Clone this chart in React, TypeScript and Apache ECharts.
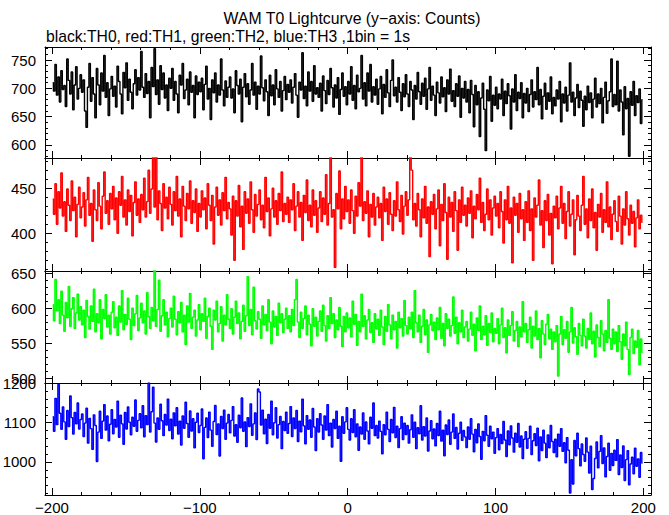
import React, { useEffect, useRef } from "react";
import * as echarts from "echarts";

const TITLE = "WAM T0 Lightcurve (y\u2212axis: Counts)";
const SUBTITLE = "black:TH0, red:TH1, green:TH2, blue:TH3 ,1bin = 1s";

const BIN_START = -200;
const BIN_WIDTH = 1;
const X_RANGE = [-204.7, 205.2];

const COLORS = ["#000000", "#ff0000", "#00ff00", "#0000ff"];
const Y_RANGES = [
  [577, 773],
  [358, 483.5],
  [493, 653],
  [916, 1201],
];
const Y_SPLITS = [4, 3, 3, 3];

const TH0 = [
  710, 695, 742, 688, 720, 676, 731, 698, 705, 668, 752, 714, 690, 729, 662, 706, 738, 681, 700, 724,
  693, 715, 660, 631, 702, 744, 677, 719, 690, 648, 735, 706, 671, 727, 695, 758, 684, 710, 652, 699,
  721, 686, 704, 667, 739, 712, 690, 655, 728, 701, 745, 679, 716, 693, 664, 708, 733, 688, 719, 697,
  765, 702, 684, 726, 691, 712, 648, 737, 703, 770, 689, 715, 672, 740, 698, 727, 683, 706, 661, 718,
  700, 735, 679, 712, 690, 657, 723, 706, 744, 682, 697, 716, 671, 729, 693, 705, 648, 722, 689, 711,
  694, 718, 662, 707, 739, 681, 700, 645, 715, 692, 727, 676, 706, 688, 752, 697, 669, 713, 684, 702,
  720, 683, 699, 657, 731, 705, 690, 716, 641, 702, 726, 685, 708, 672, 697, 744, 688, 711, 663, 704,
  690, 757, 701, 678, 715, 694, 652, 723, 687, 706, 671, 733, 699, 684, 712, 660, 696, 721, 680, 707,
  693, 715, 674, 702, 726, 688, 649, 711, 697, 763, 682, 704, 669, 729, 695, 712, 677, 740, 690, 701,
  684, 709, 660, 722, 696, 673, 714, 689, 735, 701, 667, 706, 683, 719, 654, 698, 727, 686, 703, 671,
  712, 690, 738, 679, 705, 664, 723, 694, 700, 758, 681, 710, 669, 727, 695, 742, 676, 703, 688, 716,
  672, 699, 721, 655, 707, 684, 733, 692, 668, 714, 750, 687, 702, 676, 719, 693, 661, 708, 685, 724,
  690, 668, 712, 697, 645, 705, 681, 728, 694, 672, 709, 686, 718, 663, 699, 737, 679, 704, 688, 652,
  711, 692, 674, 720, 685, 701, 659, 715, 690, 734, 677, 696, 668, 708, 686, 722, 649, 700, 683, 712,
  676, 698, 657, 714, 689, 632, 705, 671, 694, 615, 683, 709, 663, 590, 697, 678, 721, 642, 688, 670,
  702, 664, 690, 681, 716, 652, 695, 673, 708, 687, 628, 699, 676, 724, 661, 693, 682, 710, 648, 691,
  674, 700, 659, 689, 715, 667, 694, 680, 737, 671, 698, 646, 686, 709, 663, 692, 677, 720, 655, 684,
  669, 697, 681, 712, 641, 690, 674, 702, 660, 688, 745, 676, 693, 652, 683, 707, 666, 695, 679, 633,
  686, 662, 704, 675, 692, 648, 681, 718, 667, 690, 673, 700, 639, 684, 711, 656, 678, 694, 752, 668,
  689, 671, 748, 660, 697, 676, 618, 703, 664, 682, 580, 694, 670, 712, 652, 687, 675, 699, 638, 680,
];

const TH1 = [
  438, 421, 455, 410, 446, 428, 467, 419, 435, 402, 449, 431, 414, 458, 425, 440, 396, 432, 451, 417,
  429, 445, 408, 437, 462, 420, 433, 391, 448, 426, 414, 456, 430, 405, 441, 468, 422, 436, 410, 444,
  427, 452, 415, 439, 400, 446, 431, 463, 418, 437, 409, 448, 424, 442, 397, 434, 457, 420, 438, 412,
  443, 426, 461, 418, 435, 470, 422, 449, 488, 429, 492, 415, 447, 433, 403, 455, 428, 440, 416, 451,
  432, 409, 446, 425, 463, 419, 438, 396, 452, 430, 414, 444, 427, 458, 411, 436, 423, 449, 402, 433,
  418, 447, 426, 439, 405, 455, 431, 414, 442, 388, 429, 451, 420, 437, 409, 445, 425, 462, 416, 434,
  427, 398, 441, 370, 436, 419, 453, 407, 430, 382, 446, 422, 438, 411, 457, 426, 401, 443, 419, 432,
  448, 415, 431, 406, 462, 424, 439, 397, 427, 450, 418, 436, 410, 444, 425, 468, 413, 433, 421, 440,
  412, 437, 426, 455, 403, 430, 446, 418, 434, 392, 442, 423, 459, 414, 431, 407, 448, 420, 436, 401,
  428, 446, 413, 439, 421, 465, 409, 433, 490, 418, 426, 362, 444, 427, 469, 405, 438, 416, 452, 424,
  437, 411, 448, 425, 400, 441, 419, 456, 430, 486, 414, 435, 422, 447, 396, 432, 418, 444, 409, 429,
  440, 417, 433, 392, 451, 424, 438, 410, 445, 421, 403, 436, 419, 457, 426, 413, 442, 399, 430, 446,
  420, 437, 488, 470, 415, 433, 408, 444, 426, 396, 438, 417, 452, 411, 429, 374, 435, 421, 443, 405,
  427, 448, 386, 432, 414, 455, 423, 371, 440, 418, 434, 402, 446, 425, 381, 437, 412, 451, 420, 431,
  408, 439, 422, 447, 395, 430, 416, 443, 426, 461, 412, 434, 403, 421, 449, 415, 437, 398, 428, 441,
  419, 433, 406, 446, 424, 389, 437, 415, 452, 411, 428, 367, 440, 420, 433, 401, 444, 416, 426, 392,
  435, 412, 447, 403, 427, 370, 439, 418, 431, 459, 409, 425, 384, 436, 414, 443, 398, 422, 366, 430,
  417, 441, 405, 428, 452, 411, 433, 394, 424, 446, 408, 421, 437, 376, 415, 442, 419, 403, 431, 463,
  410, 427, 395, 438, 414, 449, 406, 423, 381, 432, 418, 444, 401, 426, 412, 457, 407, 429, 393, 421,
  436, 413, 402, 441, 419, 388, 427, 409, 446, 416, 398, 431, 411, 424, 385, 417, 437, 405, 420, 412,
];

const TH2 = [
  605, 582, 641, 596, 612, 578, 624, 590, 567, 608, 586, 631, 574, 599, 615, 571, 593, 620, 583, 602,
  576, 597, 558, 611, 588, 570, 603, 581, 627, 566, 592, 579, 612, 556, 598, 585, 619, 573, 590, 563,
  594, 609, 572, 587, 561, 603, 580, 625, 569, 591, 577, 614, 584, 555, 600, 575, 592, 618, 568, 586,
  607, 579, 596, 563, 622, 588, 571, 601, 582, 655, 574, 598, 640, 567, 589, 612, 576, 594, 559, 585,
  600, 573, 617, 584, 562, 595, 579, 608, 566, 590, 548, 603, 580, 621, 571, 587, 597, 560, 583, 605,
  569, 592, 581, 614, 557, 588, 600, 574, 541, 597, 583, 610, 566, 578, 602, 553, 590, 576, 619, 584,
  571, 599, 563, 587, 610, 578, 593, 556, 581, 604, 567, 589, 645, 575, 598, 562, 630, 582, 570, 595,
  584, 557, 603, 576, 591, 568, 612, 580, 549, 596, 573, 588, 561, 607, 579, 592, 565, 584, 600, 571,
  589, 566, 598, 575, 612, 641, 580, 558, 594, 571, 585, 603, 562, 590, 577, 546, 599, 574, 587, 560,
  581, 596, 567, 604, 575, 553, 589, 571, 615, 578, 592, 558, 583, 569, 601, 574, 545, 588, 566, 593,
  572, 586, 559, 610, 577, 591, 547, 581, 566, 620, 574, 589, 556, 583, 598, 565, 579, 551, 592, 570,
  584, 561, 597, 573, 548, 588, 567, 605, 576, 556, 590, 569, 581, 543, 594, 572, 585, 560, 611, 575,
  563, 587, 570, 594, 558, 625, 579, 566, 590, 551, 574, 598, 562, 583, 537, 576, 591, 568, 580, 555,
  586, 569, 601, 557, 578, 546, 592, 571, 584, 560, 575, 616, 564, 587, 549, 579, 566, 597, 558, 573,
  581, 553, 570, 594, 561, 577, 539, 586, 568, 603, 555, 574, 562, 589, 547, 578, 565, 593, 552, 571,
  564, 585, 549, 576, 600, 558, 572, 536, 583, 561, 575, 595, 553, 568, 581, 545, 573, 559, 609, 566,
  578, 551, 569, 587, 543, 574, 560, 596, 555, 571, 529, 582, 563, 548, 577, 591, 556, 570, 541, 566,
  552, 575, 503, 563, 588, 548, 569, 557, 581, 537, 566, 601, 550, 572, 559, 534, 578, 561, 546, 584,
  560, 543, 571, 555, 593, 549, 567, 530, 576, 558, 545, 582, 563, 539, 568, 551, 612, 557, 541, 570,
  549, 566, 538, 575, 552, 527, 563, 546, 580, 541, 505, 558, 570, 535, 553, 544, 568, 519, 556, 537,
];

const TH3 = [
  1115, 1078, 1162, 1095, 1197, 1124, 1083, 1140, 1102, 1058, 1131, 1090, 1168, 1113, 1071, 1126, 1097, 1150, 1084, 1108,
  1122, 1065, 1099, 1137, 1048, 1111, 1085, 1032, 1120, 1093, 1001, 1076, 1129, 1060, 1104, 1146, 1081, 1117, 1054, 1096,
  1133, 1072, 1108, 1089, 1155, 1063, 1119, 1097, 1045, 1126, 1084, 1140, 1101, 1069, 1114, 1091, 1158, 1078, 1106, 1123,
  1087, 1143, 1064, 1118, 1095, 1201, 1076, 1128, 1190, 1099, 1051, 1112, 1083, 1147, 1105, 1067, 1121, 1094, 1160, 1080,
  1109, 1059, 1125, 1092, 1138, 1071, 1104, 1043, 1117, 1086, 1152, 1098, 1063, 1130, 1079, 1110, 1036, 1101, 1124, 1075,
  1093, 1135, 1008, 1088, 1112, 1062, 1127, 1081, 1040, 1103, 1144, 1070, 1097, 1015, 1116, 1085, 1132, 1058, 1099, 1121,
  1074, 1106, 1141, 1066, 1095, 1050, 1119, 1087, 1163, 1078, 1102, 1039, 1113, 1090, 1148, 1068, 1097, 1125, 1057, 1186,
  1178, 1094, 1132, 1072, 1109, 1047, 1121, 1086, 1155, 1069, 1100, 1138, 1061, 1095, 1116, 1034, 1103, 1080, 1127, 1073,
  1098, 1141, 1065, 1112, 1085, 1131, 1052, 1104, 1077, 1160, 1092, 1046, 1118, 1083, 1107, 1063, 1136, 1089, 1029, 1110,
  1076, 1123, 1094, 1058, 1117, 1081, 1146, 1067, 1099, 1038, 1108, 1085, 1129, 1060, 1091, 1002, 1115, 1073, 1102, 1138,
  1083, 1056, 1110, 1075, 1133, 1064, 1097, 1030, 1089, 1071, 1125, 1058, 1102, 1079, 1046, 1114, 1086, 1150, 1067, 1093,
  1061, 1104, 1078, 1021, 1095, 1069, 1127, 1083, 1052, 1108, 1074, 1139, 1062, 1091, 1037, 1085, 1115, 1057, 1099, 1070,
  1093, 1048, 1082, 1120, 1063, 1101, 1034, 1087, 1072, 1143, 1056, 1090, 1066, 1112, 1028, 1079, 1105, 1059, 1084, 1041,
  1098, 1067, 1129, 1053, 1081, 1016, 1094, 1070, 1107, 1045, 1076, 1122, 1060, 1088, 1033, 1073, 1101, 1055, 1080, 1064,
  1037, 1089, 1058, 1110, 1071, 1026, 1083, 1049, 1097, 1065, 1007, 1078, 1054, 1118, 1068, 1040, 1091, 1059, 1076, 1022,
  1062, 1085, 1031, 1070, 1047, 1103, 1056, 1014, 1079, 1044, 1092, 1061, 1025, 1073, 1050, 1098, 1038, 1066, 1009, 1058,
  1077, 1035, 1060, 1091, 1019, 1054, 1072, 1042, 1086, 1003, 1064, 1029, 1081, 1048, 1011, 1069, 1036, 1093, 1052, 1024,
  1058, 1013, 1071, 1040, 1085, 1027, 1049, 998, 1062, 1030, 921, 1006, 944, 1055, 1016, 1073, 1034, 990, 1046, 1019,
  1002, 1061, 1025, 972, 1040, 930, 958, 1009, 1051, 985, 1027, 1067, 996, 1036, 962, 1014, 1048, 979, 1022, 991,
  1030, 1004, 1057, 968, 1018, 986, 1041, 953, 1006, 1029, 942, 995, 1012, 970, 1035, 989, 1008, 961, 1024, 997,
];

const SERIES = [TH0, TH1, TH2, TH3];
const NAMES = ["TH0", "TH1", "TH2", "TH3"];

const FONT = "'Liberation Sans', Arial, Helvetica, sans-serif";

export default function App() {
  const ref = useRef<HTMLDivElement>(null);

  useEffect(() => {
    document.body.style.margin = "0";
    if (!ref.current) return;
    const chart = echarts.init(ref.current, null, { renderer: "svg" });

    const panels = [
      { top: 47, height: 111 },
      { top: 158, height: 113 },
      { top: 271, height: 112 },
      { top: 383, height: 112 },
    ];

    const grid = panels.map((p) => ({
      left: 45,
      right: 18,
      top: p.top,
      height: p.height,
      containLabel: false,
      outerBoundsMode: "none",
      show: false,
    }));

    const tickStyle = { color: "#000", width: 1 };
    const fmt = (v: number) => (v < 0 ? "\u2212" + Math.abs(v) : String(v));

    const xAxis: any[] = [];
    const yAxis: any[] = [];
    panels.forEach((_, i) => {
      ["bottom", "top"].forEach((pos) => {
        xAxis.push({
          type: "value",
          gridIndex: i,
          position: pos,
          min: X_RANGE[0],
          max: X_RANGE[1],
          splitNumber: 4,
          axisLine: { show: true, onZero: false, lineStyle: tickStyle },
          axisTick: { show: true, inside: true, length: 7, lineStyle: tickStyle },
          minorTick: { show: true, splitNumber: 5, length: 3, lineStyle: tickStyle },
          splitLine: { show: false },
          axisLabel: {
            show: pos === "bottom" && i === 3,
            showMinLabel: false,
            showMaxLabel: false,
            margin: 5,
            color: "#000",
            fontSize: 15,
            fontFamily: FONT,
            formatter: fmt,
          },
        });
      });
      ["left", "right"].forEach((pos) => {
        yAxis.push({
          type: "value",
          gridIndex: i,
          position: pos,
          min: Y_RANGES[i][0],
          max: Y_RANGES[i][1],
          splitNumber: Y_SPLITS[i],
          axisLine: { show: true, onZero: false, lineStyle: tickStyle },
          axisTick: { show: true, inside: true, length: 7, lineStyle: tickStyle },
          minorTick: { show: true, splitNumber: 5, length: 3, lineStyle: tickStyle },
          splitLine: { show: false },
          axisLabel: {
            show: pos === "left",
            showMinLabel: false,
            showMaxLabel: false,
            margin: 9,
            color: "#000",
            fontSize: 15,
            fontFamily: FONT,
            formatter: fmt,
          },
        });
      });
    });

    const series = SERIES.map((vals, i) => ({
      name: NAMES[i],
      type: "line",
      xAxisIndex: i * 2,
      yAxisIndex: i * 2,
      step: "middle",
      showSymbol: false,
      symbol: "none",
      clip: true,
      silent: true,
      lineStyle: { color: COLORS[i], width: 1.4 },
      data: vals.map((v, k) => [BIN_START + BIN_WIDTH * (k + 0.5), v]),
    }));

    chart.setOption({
      animation: false,
      backgroundColor: "#ffffff",
      grid,
      xAxis,
      yAxis,
      series,
      graphic: [
        {
          type: "text",
          x: 352,
          y: 18,
          style: {
            text: TITLE,
            fill: "#000",
            fontSize: 15.8,
            fontFamily: FONT,
            align: "center",
            verticalAlign: "middle",
          },
        },
        {
          type: "text",
          x: 46,
          y: 36,
          style: {
            text: SUBTITLE,
            fill: "#000",
            fontSize: 15.7,
            fontFamily: FONT,
            align: "left",
            verticalAlign: "middle",
          },
        },
      ],
    });

    return () => chart.dispose();
  }, []);

  return <div ref={ref} style={{ width: 669, height: 515 }} />;
}
